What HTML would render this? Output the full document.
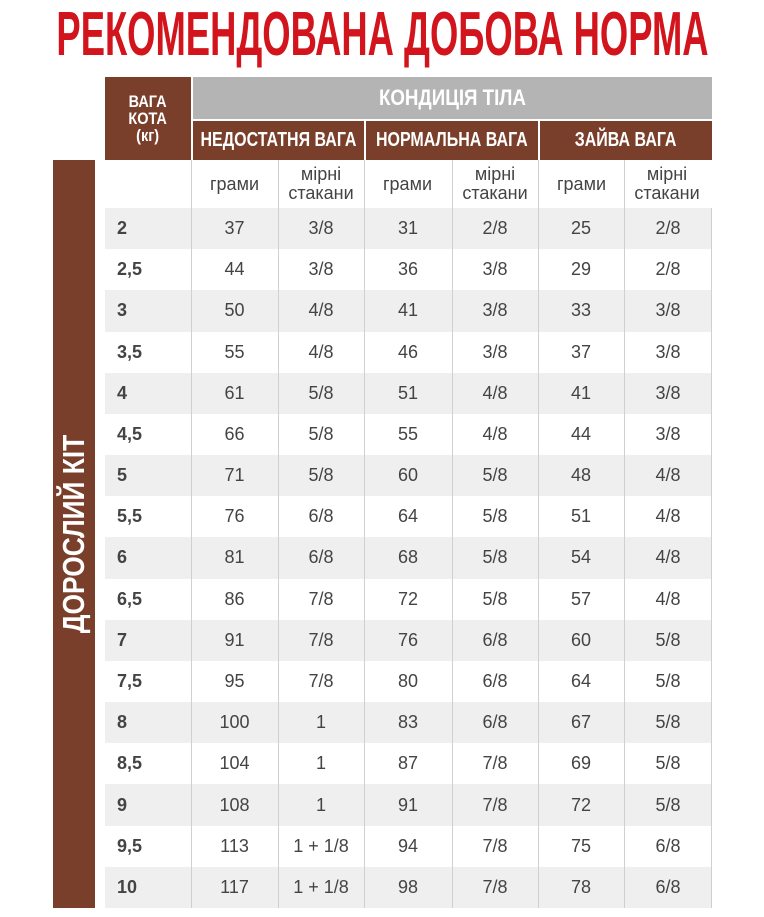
<!DOCTYPE html>
<html><head><meta charset="utf-8"><style>
body{margin:0;width:764px;height:917px;background:#fff;position:relative;overflow:hidden;font-family:"Liberation Sans",sans-serif}
.abs{position:absolute}
.tw{left:0;top:3px;width:764px;height:64px;display:flex;justify-content:center;overflow:visible}
.t{display:inline-block;color:#d2141c;font-weight:bold;font-size:62px;line-height:64px;transform:scaleX(0.587);transform-origin:50% 0;white-space:nowrap}
.brown{background:#7a3f2a;color:#fff;font-weight:bold}
.c{display:flex;align-items:center;justify-content:center;text-align:center}
.cell{position:absolute;display:flex;align-items:center;justify-content:center;color:#444;font-size:18px}
.n{transform:scaleX(0.85);white-space:nowrap}
</style></head><body>
<div class="abs tw"><span class="t">РЕКОМЕНДОВАНА ДОБОВА НОРМА</span></div>
<div class="abs brown c" style="left:105px;top:77px;width:86px;height:83px;font-size:17px;line-height:17px"><span class="n">ВАГА<br>КОТА<br>(кг)</span></div>
<div class="abs c" style="left:193px;top:77px;width:519px;height:42px;background:#b4b4b4;color:#fff;font-weight:bold;font-size:22px"><span class="n">КОНДИЦІЯ ТІЛА</span></div>
<div class="abs brown c" style="left:193px;top:121px;width:171px;height:39px;font-size:20px"><span class="n" style="transform:scaleX(0.8)">НЕДОСТАТНЯ ВАГА</span></div>
<div class="abs brown c" style="left:366px;top:121px;width:172px;height:39px;font-size:20px"><span class="n" style="transform:scaleX(0.8)">НОРМАЛЬНА ВАГА</span></div>
<div class="abs brown c" style="left:540px;top:121px;width:172px;height:39px;font-size:20px"><span class="n" style="transform:scaleX(0.8)">ЗАЙВА ВАГА</span></div>
<div class="abs brown" style="left:53px;top:160px;width:42px;height:748px"></div>
<div class="abs" style="left:74px;top:534px;transform:translate(-50%,-50%) rotate(-90deg);color:#fff;font-weight:bold;font-size:31px;white-space:nowrap"><span class="n" style="display:inline-block">ДОРОСЛИЙ КІТ</span></div>
<div id="tb"></div>
<script>
const d=[["2",37,"3/8",31,"2/8",25,"2/8"],["2,5",44,"3/8",36,"3/8",29,"2/8"],["3",50,"4/8",41,"3/8",33,"3/8"],["3,5",55,"4/8",46,"3/8",37,"3/8"],["4",61,"5/8",51,"4/8",41,"3/8"],["4,5",66,"5/8",55,"4/8",44,"3/8"],["5",71,"5/8",60,"5/8",48,"4/8"],["5,5",76,"6/8",64,"5/8",51,"4/8"],["6",81,"6/8",68,"5/8",54,"4/8"],["6,5",86,"7/8",72,"5/8",57,"4/8"],["7",91,"7/8",76,"6/8",60,"5/8"],["7,5",95,"7/8",80,"6/8",64,"5/8"],["8",100,"1",83,"6/8",67,"5/8"],["8,5",104,"1",87,"7/8",69,"5/8"],["9",108,"1",91,"7/8",72,"5/8"],["9,5",113,"1 + 1/8",94,"7/8",75,"6/8"],["10",117,"1 + 1/8",98,"7/8",78,"6/8"]];
const xs=[105,191,278,364,452,538,624,712];
let h="";
const rh=700/17;
d.forEach((r,i)=>{const y=208+i*rh;
if(i%2==0)h+=`<div class="abs" style="left:105px;top:${y}px;width:607px;height:${rh}px;background:#efefef"></div>`;
r.forEach((v,j)=>{h+=`<div class="cell" style="left:${xs[j]+(j==0?12:0)}px;top:${y}px;width:${xs[j+1]-xs[j]-(j==0?12:0)}px;height:${rh}px;${j==0?'justify-content:flex-start;font-weight:bold;':''}">${v}</div>`;});});
for(let j=0;j<3;j++){h+=`<div class="cell" style="left:${xs[1+2*j]}px;top:160px;width:87px;height:48px">грами</div><div class="cell" style="left:${xs[2+2*j]}px;top:160px;width:86px;height:48px;line-height:19px;text-align:center">мірні<br>стакани</div>`;}
for(let j=1;j<7;j++)h+=`<div class="abs" style="left:${xs[j]}px;top:160px;width:1px;height:748px;background:#d0d0d0"></div>`;
h+=`<div class="abs" style="left:711px;top:208px;width:1px;height:700px;background:#d0d0d0"></div>`;
document.getElementById("tb").innerHTML=h;
</script>
</body></html>
